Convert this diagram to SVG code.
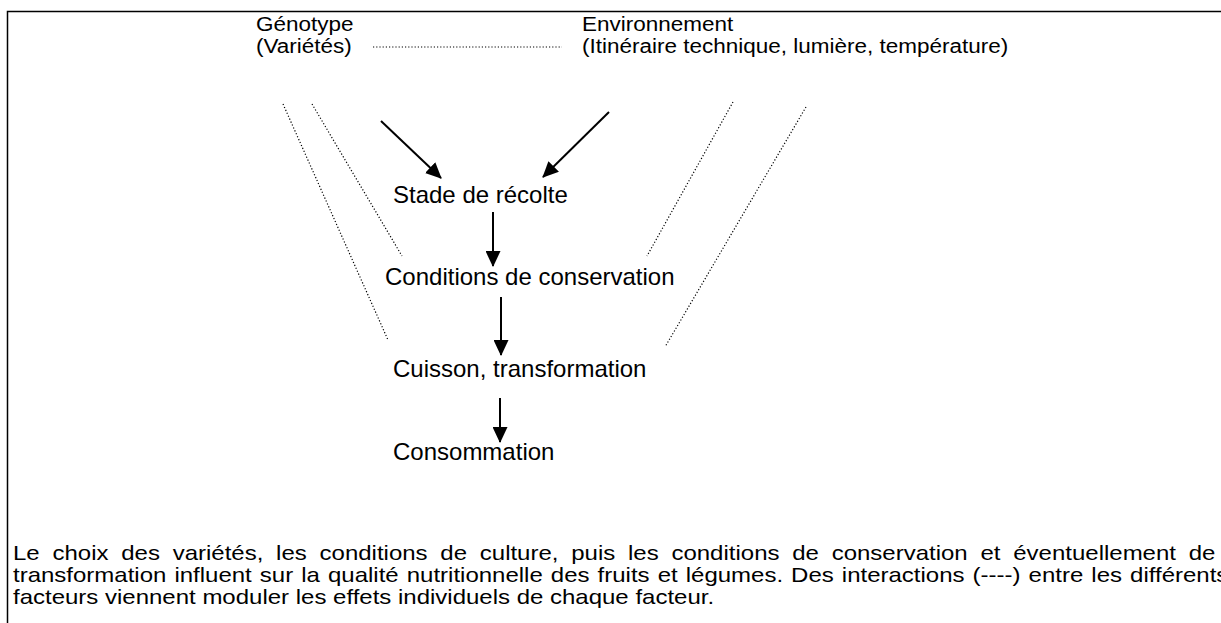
<svg xmlns="http://www.w3.org/2000/svg" width="1221" height="623" viewBox="0 0 1221 623">
<style>
text{font-family:"Liberation Sans",Arial,sans-serif;font-size:24px;fill:#000}
.top{font-size:22.5px}
.dot{stroke:#000;stroke-width:1.2;stroke-dasharray:1.2 2;fill:none}
.arr{stroke:#000;stroke-width:2;fill:none;marker-end:url(#ah)}
.frame{stroke:#000;stroke-width:1.5;fill:none}
</style>
<defs>
<marker id="ah" viewBox="0 0 16 15" refX="15" refY="7.5" markerWidth="16" markerHeight="15" markerUnits="userSpaceOnUse" orient="auto">
<path d="M0,0 L16,7.5 L0,15 Z" fill="#000"/>
</marker>
</defs>
<rect width="1221" height="623" fill="#fff"/>
<path class="frame" d="M7.5,623 V11.5 H1221"/>
<g id="genotype">
<text class="top" transform="translate(256,31) scale(1,0.86)">Génotype</text>
<text class="top" transform="translate(256,53) scale(1,0.86)">(Variétés)</text>
</g>
<g id="environnement">
<text class="top" transform="translate(582,31) scale(1,0.86)">Environnement</text>
<text class="top" transform="translate(582,53) scale(1,0.86)">(Itinéraire technique, lumière, température)</text>
</g>
<g id="stade"><text x="393" y="203">Stade de récolte</text></g>
<g id="conditions"><text x="385" y="285">Conditions de conservation</text></g>
<g id="cuisson"><text x="393" y="377">Cuisson, transformation</text></g>
<g id="consommation"><text x="393" y="460">Consommation</text></g>
<g id="connectors">
<line class="dot" x1="373" y1="47" x2="562" y2="47"/>
<line class="dot" x1="283" y1="104" x2="388" y2="340"/>
<line class="dot" x1="312" y1="104" x2="402" y2="256"/>
<line class="dot" x1="733" y1="102" x2="647" y2="256"/>
<line class="dot" x1="806" y1="107" x2="665" y2="347"/>
<line class="arr" x1="381" y1="121" x2="441" y2="178"/>
<line class="arr" x1="609" y1="112" x2="543" y2="177"/>
<line class="arr" x1="493" y1="212" x2="493" y2="266"/>
<line class="arr" x1="501" y1="297" x2="501" y2="355"/>
<line class="arr" x1="500" y1="398" x2="500" y2="442"/>
</g>
<g id="caption">
<text transform="translate(13,560) scale(1,0.86)" word-spacing="6.1">Le choix des variétés, les conditions de culture, puis les conditions de conservation et éventuellement de</text>
<text transform="translate(13,582) scale(1,0.86)" word-spacing="1.4">transformation influent sur la qualité nutritionnelle des fruits et légumes. Des interactions (----) entre les différents</text>
<text transform="translate(13,604) scale(1,0.86)">facteurs viennent moduler les effets individuels de chaque facteur.</text>
</g>
</svg>
